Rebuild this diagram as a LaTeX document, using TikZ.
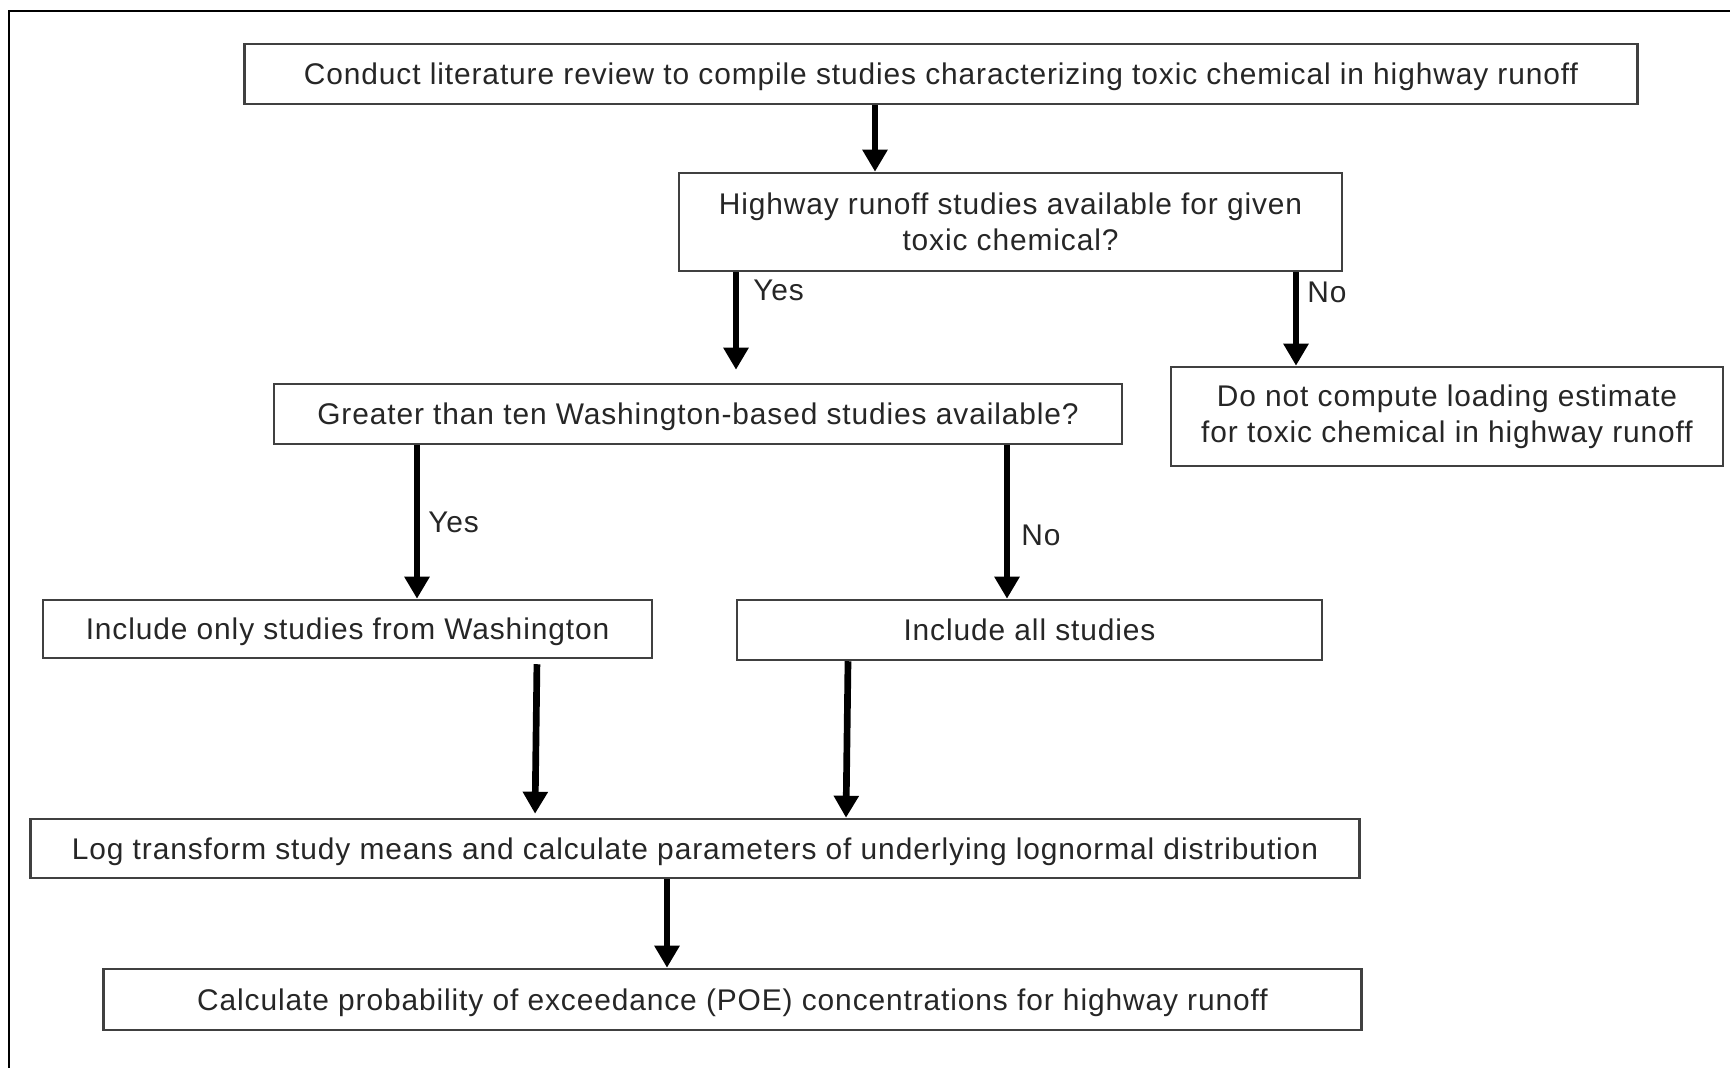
\documentclass[tikz,border=0pt]{standalone}
\usepackage{fontspec}
\setmainfont{Liberation Sans}[LetterSpace=3.0]
\usetikzlibrary{arrows.meta}

\tikzset{
  stepbox/.style={draw=black!75, line width=0.7pt, fill=white, inner sep=0pt,
    align=center, text=black!85, font=\fontsize{8.5}{10.3}\selectfont},
  onebox/.style={stepbox, text depth=0pt},
  arr/.style={line width=1.9pt, -{Triangle[length=0.22cm,width=0.24cm]}},
  lbl/.style={font=\fontsize{8.5}{10.3}\selectfont, text=black!85, inner sep=0pt, anchor=west},
}

\begin{document}
\begin{tikzpicture}[x=0.01cm,y=-0.01cm]
  \useasboundingbox (0,0) rectangle (1730,1068);
  \draw[line width=0.5pt] (9,1068) -- (9,11) -- (1730,11);

  % boxes
  \node[onebox, minimum width=13.92cm, minimum height=0.60cm] (review) at (941,74)
    {Conduct literature review to compile studies characterizing toxic chemical in highway runoff};
  \node[stepbox, minimum width=6.63cm, minimum height=0.98cm] (avail) at (1010.5,222)
    {Highway runoff studies available for given\\toxic chemical?};
  \node[onebox, minimum width=8.48cm, minimum height=0.60cm] (greater) at (698,414)
    {Greater than ten Washington-based studies available?};
  \node[stepbox, minimum width=5.52cm, minimum height=0.99cm] (nocalc) at (1447,416.5)
    {Do not compute loading estimate\\for toxic chemical in highway runoff};
  \node[onebox, minimum width=6.09cm, minimum height=0.58cm] (onlywa) at (347.5,629)
    {Include only studies from Washington};
  \node[onebox, minimum width=5.85cm, minimum height=0.60cm] (allst) at (1029.5,630)
    {Include all studies};
  \node[onebox, minimum width=13.28cm, minimum height=0.59cm] (logt) at (695,848.5)
    {Log transform study means and calculate parameters of underlying lognormal distribution};
  \node[onebox, minimum width=12.57cm, minimum height=0.61cm] (poe) at (732.5,999.5)
    {Calculate probability of exceedance (POE) concentrations for highway runoff};

  % arrows
  \draw[arr] (875,0 |- review.south) -- (875,0 |- avail.north);
  \draw[arr, shorten >=0.13cm] (736,0 |- avail.south) -- node[lbl, pos=0.16, xshift=0.14cm] {Yes} (736,0 |- greater.north);
  \draw[arr] (1296,0 |- avail.south) -- node[lbl, pos=0.22, xshift=0.08cm] {No} (1296,0 |- nocalc.north);
  \draw[arr] (417,0 |- greater.south) -- node[lbl, pos=0.5, xshift=0.08cm] {Yes} (417,0 |- onlywa.north);
  \draw[arr] (1007,0 |- greater.south) -- node[lbl, pos=0.59, xshift=0.11cm] {No} (1007,0 |- allst.north);
  \draw[arr, shorten <=0.05cm, shorten >=0.04cm] (537,0 |- onlywa.south) -- (535,0 |- logt.north);
  \draw[arr] (848,0 |- allst.south) -- (846,0 |- logt.north);
  \draw[arr] (667,0 |- logt.south) -- (667,0 |- poe.north);
\end{tikzpicture}
\end{document}
